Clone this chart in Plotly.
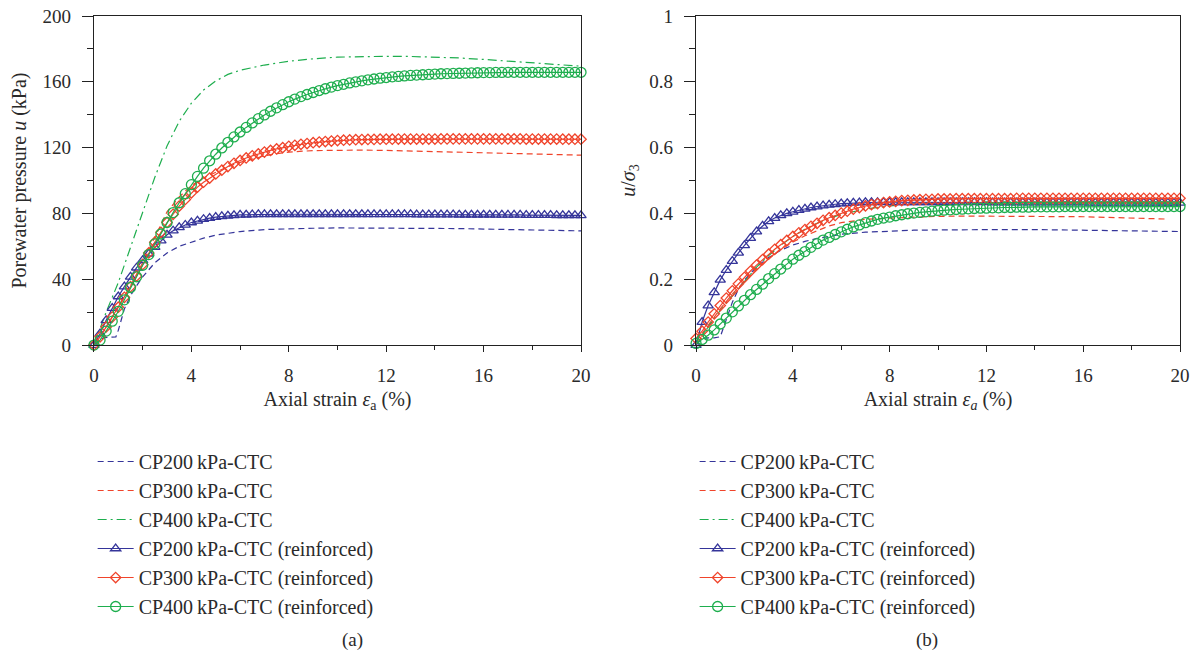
import plotly.graph_objects as go

# axial strain for the reinforced tests (markers every 0.25 %)
strain_r = [0, 0.25, 0.5, 0.75, 1, 1.25, 1.5, 1.75, 2, 2.25, 2.5, 2.75, 3, 3.25, 3.5, 3.75,
            4, 4.25, 4.5, 4.75, 5, 5.25, 5.5, 5.75, 6, 6.25, 6.5, 6.75, 7, 7.25, 7.5, 7.75,
            8, 8.25, 8.5, 8.75, 9, 9.25, 9.5, 9.75, 10, 10.25, 10.5, 10.75, 11, 11.25, 11.5, 11.75,
            12, 12.25, 12.5, 12.75, 13, 13.25, 13.5, 13.75, 14, 14.25, 14.5, 14.75, 15, 15.25, 15.5, 15.75,
            16, 16.25, 16.5, 16.75, 17, 17.25, 17.5, 17.75, 18, 18.25, 18.5, 18.75, 19, 19.25, 19.5, 19.75, 20]

# ---- (a) porewater pressure u (kPa)
a_x200 = [0, 0.4, 0.9, 1.0, 1.25, 1.5, 1.75, 2, 2.5, 3, 3.5, 4, 4.5, 5, 5.5, 6, 7, 8, 9, 10,
          11, 12, 13, 14, 15, 16, 17, 18, 19, 20]
a_u200 = [0, 4.5, 5, 9, 22, 30, 36, 41.5, 50, 56, 60, 62.5, 65, 66.8, 68, 69, 70.2, 70.8, 71, 71.2,
          71.2, 71.2, 71, 71, 70.8, 70.5, 70.3, 70, 69.7, 69.4]
a_x300 = [0, 0.5, 1, 1.5, 2, 2.5, 3, 3.5, 4, 4.5, 5, 5.5, 6, 6.5, 7, 7.5, 8, 9, 10,
          11, 12, 13, 14, 15, 16, 17, 18, 19, 20]
a_u300 = [0, 11, 23, 36, 50, 66, 81, 90, 97, 101.5, 105, 108.5, 111, 113, 115, 116.3, 117.3, 118.2, 118.5,
          118.5, 118.3, 118, 117.7, 117.3, 117, 116.6, 116.2, 115.8, 115.4]
a_x400 = [0, 0.5, 1, 1.5, 2, 2.5, 3, 3.5, 4, 4.5, 5, 5.5, 6, 6.5, 7, 8, 9, 10,
          11, 12, 13, 14, 15, 16, 17, 18, 19, 20]
a_u400 = [0, 20, 38, 59, 80, 102, 121, 136, 147, 155, 160.5, 164.5, 167, 168.8, 170.2, 172.5, 174, 175,
          175.4, 175.5, 175.4, 175.1, 174.5, 173.6, 172.6, 171.5, 170.5, 169.5]

a_u200r = [0, 7, 15, 22.5, 29.5, 35.5, 41.5, 47, 51.5, 55.5, 59.5, 63.5, 67, 69.5, 71.5, 73,
           74.5, 75.5, 76.5, 77.2, 77.8, 78.2, 78.6, 78.9, 79.1, 79.2, 79.3, 79.4, 79.4, 79.5, 79.5, 79.5,
           79.5, 79.5, 79.5, 79.5, 79.5, 79.5, 79.5, 79.5, 79.5, 79.5, 79.5, 79.5, 79.5, 79.4, 79.4, 79.4,
           79.4, 79.4, 79.4, 79.4, 79.4, 79.3, 79.3, 79.3, 79.3, 79.3, 79.3, 79.3, 79.2, 79.2, 79.2, 79.2,
           79.2, 79.2, 79.1, 79.1, 79.1, 79.1, 79.1, 79.0, 79.0, 79.0, 79.0, 79.0, 78.9, 78.9, 78.9, 78.9, 78.8]
a_u300r = [0, 5, 11, 17, 23, 29, 35.5, 42, 49, 56, 62.5, 68.5, 74.5, 79.5, 84.5, 88.5,
           92.5, 96, 99, 101.5, 104, 106.3, 108.5, 110.5, 112.2, 113.7, 115, 116.2, 117.3, 118.3, 119.2, 120,
           120.8, 121.4, 122, 122.5, 123, 123.4, 123.7, 124, 124.3, 124.5, 124.7, 124.8, 124.9, 125, 125, 125.1,
           125.1, 125.1, 125.2, 125.2, 125.2, 125.2, 125.2, 125.2, 125.2, 125.3, 125.3, 125.3, 125.3, 125.3, 125.3, 125.3,
           125.3, 125.3, 125.3, 125.3, 125.3, 125.3, 125.3, 125.2, 125.2, 125.2, 125.2, 125.2, 125.2, 125.1, 125.1, 125.1, 125.1]
a_u400r = [0, 3, 8.5, 14.5, 20.5, 27.5, 35, 41.5, 48.5, 55, 61.5, 67.5, 74.5, 80.5, 86.5, 92,
           97.5, 102.5, 107.5, 112, 116, 119.8, 123.2, 126.5, 129.5, 132.3, 135, 137.6, 139.9, 142.1, 144.2, 146.1,
           147.9, 149.5, 151, 152.3, 153.5, 154.7, 155.8, 156.8, 157.7, 158.5, 159.3, 160, 160.6, 161.2, 161.7, 162.2,
           162.6, 163, 163.3, 163.6, 163.9, 164.1, 164.3, 164.5, 164.7, 164.9, 165, 165.1, 165.2, 165.3, 165.4, 165.5,
           165.6, 165.6, 165.7, 165.7, 165.8, 165.8, 165.8, 165.8, 165.8, 165.8, 165.8, 165.8, 165.8, 165.8, 165.8, 165.8, 165.8]

# ---- (b) normalised porewater pressure u/sigma3
b_x200 = [0, 0.25, 0.5, 0.75, 1.0, 1.25, 1.5, 1.75, 2, 2.5, 3, 3.5, 4, 4.5, 5, 5.5, 6, 7, 8, 9, 10,
          11, 12, 13, 14, 15, 16, 17, 18, 19, 20]
b_r200 = [0, 0.02, 0.022, 0.022, 0.025, 0.075, 0.13, 0.17, 0.197, 0.238, 0.266, 0.288, 0.304, 0.315, 0.324,
          0.33, 0.337, 0.343, 0.347, 0.349, 0.35, 0.351, 0.351, 0.351, 0.351, 0.35, 0.349, 0.348, 0.347, 0.346, 0.345]
b_x300 = [0, 0.5, 1, 1.5, 2, 2.5, 3, 3.5, 4, 4.5, 5, 5.5, 6, 7, 8, 9, 10,
          11, 12, 13, 14, 15, 16, 17, 18, 19, 19.4]
b_r300 = [0.01, 0.06, 0.11, 0.155, 0.195, 0.232, 0.263, 0.29, 0.313, 0.332, 0.347, 0.362, 0.372, 0.382, 0.386,
          0.389, 0.391, 0.392, 0.392, 0.392, 0.392, 0.391, 0.39, 0.388, 0.386, 0.384, 0.383]
b_x400 = [0, 0.5, 1, 1.5, 2, 2.5, 3, 3.5, 4, 4.5, 5, 5.5, 6, 7, 8, 9, 10,
          11, 12, 13, 14, 15, 16, 17, 18, 19, 20]
b_r400 = [0, 0.055, 0.105, 0.15, 0.195, 0.237, 0.272, 0.303, 0.33, 0.352, 0.37, 0.385, 0.397, 0.413, 0.423,
          0.429, 0.432, 0.434, 0.435, 0.435, 0.435, 0.434, 0.433, 0.432, 0.431, 0.43, 0.428]

b_r200r = [0, 0.07, 0.12, 0.16, 0.198, 0.228, 0.255, 0.28, 0.303, 0.325, 0.345, 0.362, 0.376, 0.386, 0.394, 0.4,
           0.405, 0.41, 0.414, 0.418, 0.421, 0.424, 0.426, 0.428, 0.43, 0.431, 0.432, 0.433, 0.434, 0.434, 0.434, 0.434,
           0.434, 0.434, 0.434, 0.434, 0.434, 0.434, 0.434, 0.434, 0.434, 0.434, 0.434, 0.434, 0.434, 0.434, 0.434, 0.434,
           0.434, 0.433, 0.433, 0.433, 0.433, 0.433, 0.433, 0.433, 0.433, 0.433, 0.433, 0.433, 0.433, 0.433, 0.433, 0.433,
           0.433, 0.432, 0.432, 0.432, 0.432, 0.432, 0.432, 0.432, 0.432, 0.432, 0.432, 0.432, 0.432, 0.432, 0.432, 0.432, 0.432]
b_r300r = [0.02, 0.042, 0.07, 0.095, 0.12, 0.143, 0.165, 0.186, 0.206, 0.225, 0.243, 0.26, 0.276, 0.291, 0.305, 0.318,
           0.33, 0.341, 0.351, 0.361, 0.37, 0.379, 0.387, 0.394, 0.401, 0.407, 0.413, 0.418, 0.423, 0.427, 0.43, 0.433,
           0.435, 0.437, 0.439, 0.44, 0.441, 0.442, 0.443, 0.443, 0.444, 0.444, 0.444, 0.445, 0.445, 0.445, 0.445, 0.445,
           0.445, 0.445, 0.445, 0.445, 0.445, 0.446, 0.446, 0.446, 0.446, 0.446, 0.446, 0.446, 0.446, 0.446, 0.446, 0.446,
           0.446, 0.446, 0.446, 0.446, 0.446, 0.446, 0.446, 0.446, 0.446, 0.446, 0.446, 0.446, 0.446, 0.446, 0.446, 0.446, 0.446]
b_r400r = [0.005, 0.017, 0.03, 0.046, 0.064, 0.082, 0.101, 0.119, 0.136, 0.153, 0.169, 0.185, 0.202, 0.217, 0.231, 0.246,
           0.261, 0.273, 0.284, 0.297, 0.308, 0.319, 0.327, 0.336, 0.344, 0.352, 0.359, 0.365, 0.372, 0.377, 0.382, 0.386,
           0.389, 0.393, 0.396, 0.399, 0.401, 0.403, 0.405, 0.407, 0.409, 0.41, 0.411, 0.412, 0.413, 0.414, 0.415, 0.416,
           0.416, 0.417, 0.417, 0.418, 0.418, 0.419, 0.419, 0.419, 0.42, 0.42, 0.42, 0.42, 0.42, 0.421, 0.421, 0.421,
           0.421, 0.421, 0.421, 0.421, 0.421, 0.421, 0.421, 0.421, 0.421, 0.421, 0.421, 0.421, 0.421, 0.421, 0.421, 0.421, 0.421]

names = ['CP200\u2009kPa-CTC', 'CP300\u2009kPa-CTC', 'CP400\u2009kPa-CTC',
         'CP200\u2009kPa-CTC (reinforced)', 'CP300\u2009kPa-CTC (reinforced)', 'CP400\u2009kPa-CTC (reinforced)']

BLUE = '#35359a'
RED = '#f0442b'
GREEN = '#1eae4e'
FONT = 'Liberation Serif'
TXT = '#2a2a2a'

fig = go.Figure()


def add_panel(xa, ya, legend, dashed, reinf):
	colors = [BLUE, RED, GREEN]
	dashes = ['6px,4px', '6px,4px', '9px,4px,2px,4px']
	for i, (xs, ys) in enumerate(dashed):
		fig.add_trace(go.Scatter(x=xs, y=ys, mode='lines', name=names[i],
								 line=dict(color=colors[i], width=1.2, dash=dashes[i]),
								 xaxis=xa, yaxis=ya, legend=legend, legendgroup=legend + str(i),
								 cliponaxis=False))
	symbols = ['triangle-up-open', 'diamond-open', 'circle-open']
	sizes = [9, 8, 10]
	for i, ys in enumerate(reinf):
		fig.add_trace(go.Scatter(x=strain_r, y=ys, mode='lines+markers', name=names[i + 3],
								 line=dict(color=colors[i], width=1.2),
								 marker=dict(symbol=symbols[i], size=sizes[i], color=colors[i],
											 line=dict(color=colors[i], width=1.3)),
								 xaxis=xa, yaxis=ya, legend=legend, legendgroup=legend + str(i + 3),
								 cliponaxis=False))


add_panel('x', 'y', 'legend',
		  [(a_x200, a_u200), (a_x300, a_u300), (a_x400, a_u400)],
		  [a_u200r, a_u300r, a_u400r])
add_panel('x2', 'y2', 'legend2',
		  [(b_x200, b_r200), (b_x300, b_r300), (b_x400, b_r400)],
		  [b_r200r, b_r300r, b_r400r])

base = dict(showline=True, mirror=True, linecolor='#222', linewidth=1.3, showgrid=False, zeroline=False,
			ticks='outside', tickwidth=1.2, tickcolor='#222', automargin=False,
			tickfont=dict(family=FONT, size=19, color=TXT))
x_style = dict(base, ticklen=6, ticklabelstandoff=7,
			   minor=dict(ticks='outside', ticklen=4, dtick=2, tickcolor='#222', tickwidth=1.2))
title_x = dict(family=FONT, size=20, color=TXT)
title_y = dict(family=FONT, size=20, color=TXT)

fig.update_layout(
	width=1197, height=656,
	margin=dict(l=0, r=0, t=0, b=0, autoexpand=False),
	paper_bgcolor='white', plot_bgcolor='white',
	font=dict(family=FONT, size=19, color=TXT),
	showlegend=True,
	xaxis=dict(domain=[0.0785, 0.4854], range=[0, 20], dtick=4, anchor='y',
			   title=dict(text='Axial strain <i>ε</i><sub>a</sub> (%)', standoff=6, font=title_x), **x_style),
	yaxis=dict(domain=[0.474, 0.9756], range=[0, 200], dtick=40, anchor='x', ticklen=11, ticklabelstandoff=7,
			   minor=dict(ticks='outside', ticklen=6, dtick=20, tickcolor='#222', tickwidth=1.2),
			   title=dict(text='Porewater pressure <i>u</i> (kPa)', standoff=10, font=title_y), **base),
	xaxis2=dict(domain=[0.5815, 0.9858], range=[0, 20], dtick=4, anchor='y2',
				title=dict(text='Axial strain <i>ε<sub>a</sub></i> (%)', standoff=6, font=title_x), **x_style),
	yaxis2=dict(domain=[0.474, 0.9756], range=[0, 1], dtick=0.2, anchor='x2', ticklen=11, ticklabelstandoff=7,
				minor=dict(ticks='outside', ticklen=6, dtick=0.1, tickcolor='#222', tickwidth=1.2),
				title=dict(text='<i>u</i>/<i>σ</i><sub>3</sub>', standoff=8, font=title_x), **base),
	legend=dict(x=0.0774, y=0.3262, xanchor='left', yanchor='top', bgcolor='rgba(0,0,0,0)',
				font=dict(family=FONT, size=20, color=TXT), tracegroupgap=0, itemwidth=36),
	legend2=dict(x=0.5803, y=0.3262, xanchor='left', yanchor='top', bgcolor='rgba(0,0,0,0)',
				 font=dict(family=FONT, size=20, color=TXT), tracegroupgap=0, itemwidth=36),
	annotations=[
		dict(text='(a)', x=0.284, y=0.0244, xref='paper', yref='paper', yanchor='middle', showarrow=False,
			 font=dict(family=FONT, size=19, color=TXT)),
		dict(text='(b)', x=0.785, y=0.0244, xref='paper', yref='paper', yanchor='middle', showarrow=False,
			 font=dict(family=FONT, size=19, color=TXT)),
	],
)

# page body has a default margin; drop it so the figure sits at the window corner
fig.write_html("out.html", config={'displayModeBar': False},
			   post_script="document.body.style.margin='0';")
